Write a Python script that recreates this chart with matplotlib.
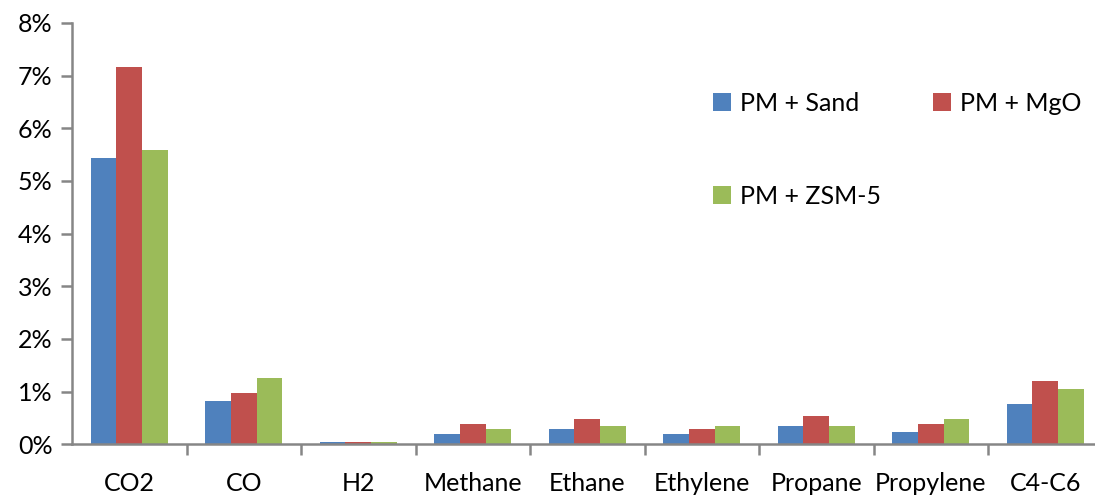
import matplotlib
matplotlib.use("Agg")
import matplotlib.pyplot as plt
import numpy as np
from matplotlib.ticker import FuncFormatter, FixedLocator

categories = ["CO2", "CO", "H2", "Methane", "Ethane", "Ethylene", "Propane", "Propylene", "C4-C6"]
series_names = ["PM + Sand", "PM + MgO", "PM + ZSM-5"]
pm_sand = [5.43, 0.82, 0.05, 0.20, 0.29, 0.20, 0.34, 0.24, 0.77]
pm_mgo = [7.16, 0.97, 0.05, 0.39, 0.48, 0.29, 0.53, 0.39, 1.20]
pm_zsm5 = [5.58, 1.26, 0.05, 0.29, 0.34, 0.34, 0.34, 0.48, 1.05]
y_ticks = [0, 1, 2, 3, 4, 5, 6, 7, 8]

colors = ["#4F81BD", "#C0504D", "#9BBB59"]
plt.rcParams['font.family'] = ['Lato', 'DejaVu Sans']

fig = plt.figure(figsize=(10.95, 4.95), dpi=100)
ax = fig.add_axes([72/1095, 50.7/495, 1030.5/1095, 421.3/495])

x = np.arange(len(categories))
w = 0.223
bars = []
for i, (vals, name) in enumerate(zip([pm_sand, pm_mgo, pm_zsm5], series_names)):
    bars.append(ax.bar(x + (i - 1) * w, vals, width=w, color=colors[i], label=name, zorder=2))

ax.set_xlim(-0.5, len(categories) - 0.5)
ax.set_ylim(0, 8)
ax.set_yticks(y_ticks)
ax.yaxis.set_major_formatter(FuncFormatter(lambda v, p: f"{int(v)}%"))
ax.set_xticks(x)
ax.set_xticklabels(categories)
ax.xaxis.set_minor_locator(FixedLocator(np.arange(0.5, len(categories) - 0.5, 1.0)))

spine_c = "#868686"
for s in ["top", "right"]:
    ax.spines[s].set_visible(False)
for s in ["left", "bottom"]:
    ax.spines[s].set_color(spine_c)
    ax.spines[s].set_linewidth(1.8)

ax.tick_params(axis='y', which='major', length=8, width=1.8, color=spine_c, labelsize=18, pad=6)
ax.tick_params(axis='x', which='major', length=0, labelsize=18, pad=20)
ax.tick_params(axis='x', which='minor', length=8, width=1.8, color=spine_c)

# row-major order: Sand, MgO on first row; ZSM-5 on second
order = [0, 2, 1]
leg = ax.legend([bars[k] for k in order], [series_names[k] for k in order],
                ncol=2, loc='upper left', bbox_to_anchor=(0.6, 0.89),
                frameon=False, fontsize=18, handlelength=0.72, handleheight=0.72,
                handletextpad=0.35, labelspacing=2.8, columnspacing=2.1)

fig.savefig("out.png", dpi=100)
